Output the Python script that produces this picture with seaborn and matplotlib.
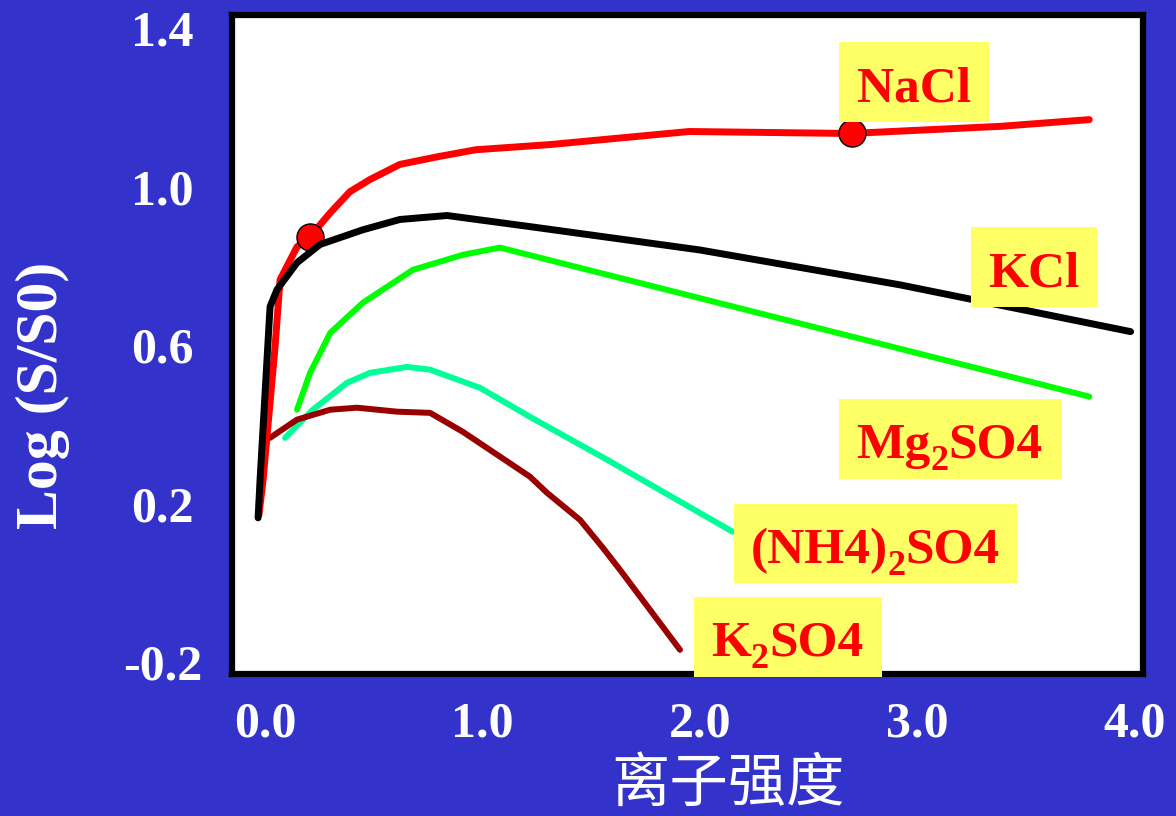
import numpy as np
import pandas as pd
import matplotlib
matplotlib.use("Agg")
import matplotlib.pyplot as plt
from matplotlib.patches import Rectangle
from matplotlib.transforms import offset_copy
import seaborn as sns

# ---------------- data ----------------
nacl_x = [-0.028, -0.009, 0.046, 0.069, 0.147, 0.207, 0.30, 0.39, 0.483, 0.62, 0.80, 0.97, 1.31, 1.95, 2.69, 3.38, 3.79]
nacl_y = [0.172, 0.26, 0.596, 0.765, 0.848, 0.874, 0.934, 0.987, 1.018, 1.056, 1.076, 1.093, 1.106, 1.139, 1.134, 1.152, 1.169]

kcl_x = [-0.032, -0.023, 0.023, 0.055, 0.147, 0.253, 0.45, 0.62, 0.837, 1.218, 2.0, 2.92, 3.98]
kcl_y = [0.164, 0.26, 0.697, 0.74, 0.808, 0.854, 0.891, 0.917, 0.927, 0.899, 0.84, 0.752, 0.634]

mg_x = [0.147, 0.207, 0.30, 0.45, 0.68, 0.91, 1.08, 3.79]
mg_y = [0.437, 0.530, 0.631, 0.707, 0.79, 0.828, 0.846, 0.470]

nh4_x = [0.092, 0.22, 0.377, 0.483, 0.653, 0.759, 0.989, 1.218, 1.572, 2.15]
nh4_y = [0.366, 0.437, 0.505, 0.530, 0.545, 0.538, 0.492, 0.419, 0.311, 0.129]

k2_x = [0.023, 0.147, 0.30, 0.423, 0.607, 0.759, 0.91, 1.218, 1.297, 1.448, 1.554, 1.632, 1.77, 1.908]
k2_y = [0.366, 0.412, 0.437, 0.442, 0.432, 0.429, 0.381, 0.268, 0.227, 0.159, 0.088, 0.033, -0.068, -0.169]

marker_x = [0.207, 2.70]
marker_y = [0.874, 1.134]

x_ticks = [0.0, 1.0, 2.0, 3.0, 4.0]
x_tick_labels = ["0.0", "1.0", "2.0", "3.0", "4.0"]
y_ticks = [1.4, 1.0, 0.6, 0.2, -0.2]
y_tick_labels = ["1.4", "1.0", "0.6", "0.2", "-0.2"]

# label pieces: (text, is_subscript)
labels = [
    [("NaCl", False)],
    [("KCl", False)],
    [("Mg", False), ("2", True), ("SO4", False)],
    [("(NH4)", False), ("2", True), ("SO4", False)],
    [("K", False), ("2", True), ("SO4", False)],
]

# ---------------- style ----------------
sns.set_style("white")
plt.rcParams["font.family"] = ["Liberation Serif", "DejaVu Serif"]

BG = "#3333CC"
fig = plt.figure(figsize=(11.76, 8.16), dpi=100, facecolor=BG)
ax = fig.add_axes([232 / 1176, 1 - 674 / 816, (1143 - 232) / 1176, (674 - 15) / 816])
ax.set_facecolor("white")

series = [
    (nacl_x, nacl_y, "#FF0000", 5.0, 3),
    (kcl_x, kcl_y, "#000000", 5.0, 5),
    (mg_x, mg_y, "#00FF00", 4.3, 2),
    (nh4_x, nh4_y, "#00FF99", 4.3, 2),
    (k2_x, k2_y, "#990000", 4.3, 2.5),
]
for xs, ys, col, lw, z in series:
    df = pd.DataFrame({"x": xs, "y": ys})
    sns.lineplot(data=df, x="x", y="y", sort=False, estimator=None, color=col,
                 linewidth=lw, ax=ax, zorder=z, solid_capstyle="round",
                 solid_joinstyle="round")

mk = pd.DataFrame({"x": marker_x, "y": marker_y})
sns.scatterplot(data=mk, x="x", y="y", ax=ax, s=19.5 ** 2, color="#FF0000",
                edgecolor="black", linewidth=1.0, zorder=4)

ax.set_xlim(-0.152, 4.037)
ax.set_ylim(-0.230, 1.433)

# label boxes (data coords) and text anchors
boxes = [(2.639, 1.164, 0.690, 0.202),
         (3.246, 0.697, 0.579, 0.202),
         (2.639, 0.263, 1.025, 0.202),
         (2.156, 0.000, 1.301, 0.199),
         (1.972, -0.237, 0.865, 0.202)]
text_pos = [(2.984, 1.215), (3.536, 0.747), (3.145, 0.316), (2.805, 0.0505), (2.400, -0.184)]

MAIN_FS = 37
SUB_FS = 26
SUB_DROP = -9  # points
renderer = fig.canvas.get_renderer()
for (bx, by, bw, bh), (tx, ty), pieces in zip(boxes, text_pos, labels):
    ax.add_patch(Rectangle((bx, by), bw, bh, facecolor="#FFFF66", edgecolor="none",
                           zorder=6, clip_on=False))
    # measure widths (pixels)
    widths = []
    for s, sub in pieces:
        t = fig.text(0, 0, s, fontsize=SUB_FS if sub else MAIN_FS, fontweight="bold")
        widths.append(t.get_window_extent(renderer).width)
        t.remove()
    total = sum(widths)
    x_off = -total / 2.0
    for (s, sub), w in zip(pieces, widths):
        tr = offset_copy(ax.transData, fig=fig, x=x_off, y=(SUB_DROP * 100 / 72.0) if sub else 0,
                         units="dots")
        ax.text(tx, ty, s, transform=tr, ha="left", va="baseline",
                fontsize=SUB_FS if sub else MAIN_FS, color="#FF0000",
                fontweight="bold", zorder=7, clip_on=False)
        x_off += w

for sp in ax.spines.values():
    sp.set_visible(True)
    sp.set_color("black")
    sp.set_linewidth(4.5)
    sp.set_zorder(5)

ax.set_xticks(x_ticks)
ax.set_xticklabels(x_tick_labels)
ax.set_yticks(y_ticks)
ax.set_yticklabels(y_tick_labels)
ax.tick_params(axis="both", length=0, colors="white", labelsize=36)
ax.tick_params(axis="x", pad=20)
ax.tick_params(axis="y", pad=50)
for t in ax.get_xticklabels() + ax.get_yticklabels():
    t.set_fontweight("bold")
    t.set_color("white")
for t in ax.get_yticklabels():
    t.set_ha("center")

ax.set_xlabel("离子强度", fontsize=42, color="white", family=["Noto Sans CJK SC", "DejaVu Sans"],
              va="center", ha="center")
ax.xaxis.set_label_coords(0.5445, -0.168)
ax.set_ylabel("Log (S/S0)", fontsize=43, color="white", fontweight="bold",
              va="center", ha="center")
ax.yaxis.set_label_coords(-0.2075, 0.423)

fig.savefig("out.png", dpi=100, facecolor=BG)
